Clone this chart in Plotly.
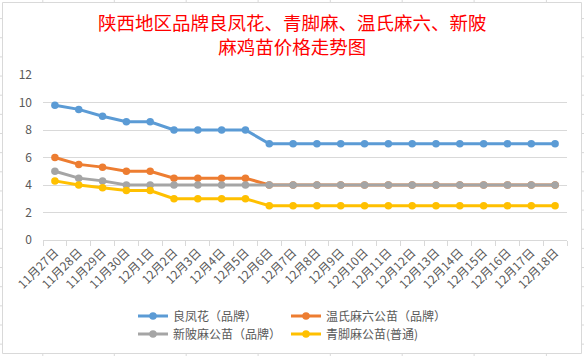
import plotly.graph_objects as go

dates = ["11月27日", "11月28日", "11月29日", "11月30日", "12月1日", "12月2日", "12月3日",
         "12月4日", "12月5日", "12月6日", "12月7日", "12月8日", "12月9日", "12月10日",
         "12月11日", "12月12日", "12月13日", "12月14日", "12月15日", "12月16日",
         "12月17日", "12月18日"]

liangfenghua = [9.8, 9.5, 9.0, 8.6, 8.6, 8.0, 8.0, 8.0, 8.0, 7.0, 7.0, 7.0, 7.0, 7.0,
                7.0, 7.0, 7.0, 7.0, 7.0, 7.0, 7.0, 7.0]
wenshi = [6.0, 5.5, 5.3, 5.0, 5.0, 4.5, 4.5, 4.5, 4.5, 4.0, 4.0, 4.0, 4.0, 4.0,
          4.0, 4.0, 4.0, 4.0, 4.0, 4.0, 4.0, 4.0]
xinpi = [5.0, 4.5, 4.3, 4.0, 4.0, 4.0, 4.0, 4.0, 4.0, 4.0, 4.0, 4.0, 4.0, 4.0,
         4.0, 4.0, 4.0, 4.0, 4.0, 4.0, 4.0, 4.0]
qingjiao = [4.3, 4.0, 3.8, 3.6, 3.6, 3.0, 3.0, 3.0, 3.0, 2.5, 2.5, 2.5, 2.5, 2.5,
            2.5, 2.5, 2.5, 2.5, 2.5, 2.5, 2.5, 2.5]

series_names = ["良凤花（品牌）", "温氏麻六公苗（品牌）", "新陂麻公苗（品牌）", "青脚麻公苗(普通)"]
series_values = [liangfenghua, wenshi, xinpi, qingjiao]
series_colors = ["#5B9BD5", "#ED7D31", "#A5A5A5", "#FFC000"]
series_legends = ["legend", "legend", "legend2", "legend2"]

title_lines = ["陕西地区品牌良凤花、青脚麻、温氏麻六、新陂", "麻鸡苗价格走势图"]

FONT = "Noto Sans CJK SC"
W, H = 584, 356
L, R, T, B = 43, 17, 75, 116
PW, PH = W - L - R, H - T - B

fig = go.Figure()
for name, vals, col, lg in zip(series_names, series_values, series_colors, series_legends):
    fig.add_trace(go.Scatter(
        x=dates, y=vals, name=name, mode="lines+markers",
        line=dict(color=col, width=3),
        marker=dict(color=col, size=7.5, symbol="circle"),
        legend=lg,
    ))

def px2paper_x(px):
    return (px - L) / PW

def px2paper_y(py):
    return (H - B - py) / PH

shapes = []
# chart border
shapes.append(dict(type="rect", xref="paper", yref="paper",
                   x0=px2paper_x(2.5), x1=px2paper_x(581.5),
                   y0=px2paper_y(353.5), y1=px2paper_y(2.5),
                   line=dict(color="#D9D9D9", width=1), fillcolor="rgba(0,0,0,0)",
                   layer="below"))
# spreadsheet cell grid remnants outside the chart
col_x = [42.8, 114.3, 186.2, 258.1, 330.3, 402.2, 474.1, 546.4]
for cx in col_x:
    shapes.append(dict(type="line", xref="paper", yref="paper",
                       x0=px2paper_x(cx), x1=px2paper_x(cx),
                       y0=px2paper_y(0), y1=px2paper_y(2),
                       line=dict(color="#D9D9D9", width=1)))
    shapes.append(dict(type="line", xref="paper", yref="paper",
                       x0=px2paper_x(cx), x1=px2paper_x(cx),
                       y0=px2paper_y(354), y1=px2paper_y(356),
                       line=dict(color="#D9D9D9", width=1)))
ry = 18.6
while ry < 356:
    for x0, x1 in [(0, 2), (582, 584)]:
        shapes.append(dict(type="line", xref="paper", yref="paper",
                           x0=px2paper_x(x0), x1=px2paper_x(x1),
                           y0=px2paper_y(ry), y1=px2paper_y(ry),
                           line=dict(color="#D9D9D9", width=1)))
    ry += 19.15

fig.add_annotation(text="<br>".join(title_lines), xref="paper", yref="paper",
                   x=px2paper_x(292), y=px2paper_y(7), xanchor="center", yanchor="top",
                   showarrow=False, align="center",
                   font=dict(family=FONT, size=18.5, color="#FF0000"))

fig.update_layout(
    width=W, height=H,
    margin=dict(l=L, r=R, t=T, b=B, autoexpand=False),
    paper_bgcolor="white", plot_bgcolor="white",
    font=dict(family=FONT, size=12, color="#595959"),
    xaxis=dict(type="category", showgrid=False, showline=True, linecolor="#D9D9D9",
               linewidth=1, ticks="outside", ticklen=5, tickcolor="#D9D9D9",
               tickson="boundaries", tickangle=-45,
               tickfont=dict(family=FONT, size=12, color="#595959"),
               range=[-0.5, len(dates) - 0.5], automargin=False),
    yaxis=dict(range=[0, 12], dtick=2, showgrid=True, gridcolor="#D9D9D9",
               gridwidth=1, zeroline=False, showline=False, ticks="",
               ticklabelstandoff=10,
               tickfont=dict(family=FONT, size=12, color="#595959"),
               automargin=False),
    legend=dict(orientation="h", x=px2paper_x(133), xanchor="left",
                y=px2paper_y(316), yanchor="middle",
                entrywidth=108, entrywidthmode="pixels",
                font=dict(family=FONT, size=12, color="#595959"),
                bgcolor="rgba(0,0,0,0)", tracegroupgap=0),
    legend2=dict(orientation="h", x=px2paper_x(133), xanchor="left",
                 y=px2paper_y(334), yanchor="middle",
                 entrywidth=108, entrywidthmode="pixels",
                 font=dict(family=FONT, size=12, color="#595959"),
                 bgcolor="rgba(0,0,0,0)", tracegroupgap=0),
    shapes=shapes,
    showlegend=True,
)

fig.write_html("out.html", config={"displayModeBar": False},
               post_script="document.body.style.margin='0';document.body.style.overflow='hidden';")
